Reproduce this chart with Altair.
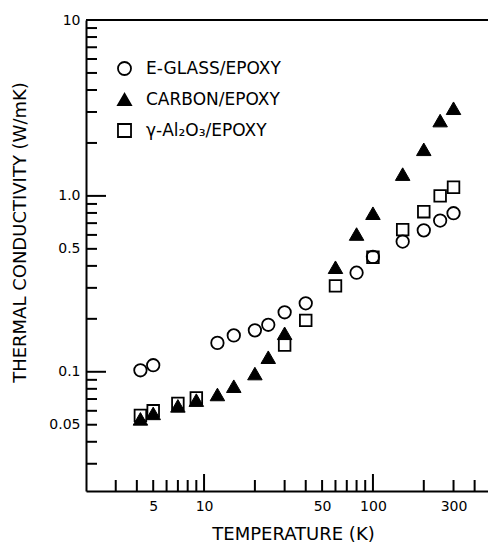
import altair as alt
import pandas as pd

series_names = ["E-GLASS/EPOXY", "CARBON/EPOXY", "γ-Al₂O₃/EPOXY"]
series_shapes = ["circle", "triangle-up", "square"]
series_fills = ["transparent", "black", "transparent"]
series_strokes = ["black", "black", "black"]

eglass_T = [4.2, 5, 12, 15, 20, 24, 30, 40, 80, 100, 150, 200, 250, 300]
eglass_k = [0.102, 0.109, 0.146, 0.161, 0.172, 0.185, 0.218, 0.245, 0.366, 0.45, 0.55, 0.637, 0.724, 0.797]

carbon_T = [4.2, 5, 7, 9, 12, 15, 20, 24, 30, 60, 80, 100, 150, 200, 250, 300]
carbon_k = [0.054, 0.058, 0.064, 0.069, 0.0743, 0.0828, 0.0977, 0.121, 0.1655, 0.393, 0.607, 0.797, 1.33, 1.84, 2.68, 3.15]

alumina_T = [4.2, 5, 7, 9, 30, 40, 60, 100, 150, 200, 250, 300]
alumina_k = [0.0565, 0.060, 0.066, 0.071, 0.142, 0.196, 0.308, 0.448, 0.643, 0.813, 1.0, 1.12]

x_label_values = [5, 10, 50, 100, 300]
y_label_values = [0.05, 0.1, 0.5, 1, 10]
x_minor_ticks = [3, 4, 5, 6, 7, 8, 9, 20, 30, 40, 50, 60, 70, 80, 90, 200, 300, 400]
x_major_ticks = [10, 100]
y_minor_ticks = [0.03, 0.04, 0.05, 0.06, 0.07, 0.08, 0.09,
                 0.2, 0.3, 0.4, 0.5, 0.6, 0.7, 0.8, 0.9,
                 2, 3, 4, 5, 6, 7, 8, 9]
y_major_ticks = [0.1, 1]

W, H = 402, 471
FONT = "DejaVu Sans"

rows = []
for name, Ts, ks in [(series_names[1], carbon_T, carbon_k),
                     (series_names[0], eglass_T, eglass_k),
                     (series_names[2], alumina_T, alumina_k)]:
    for t, k in zip(Ts, ks):
        rows.append({"series": name, "T": t, "k": k})
df = pd.DataFrame(rows)

xscale = alt.Scale(type="log", domain=[2, 480], nice=False)
yscale = alt.Scale(type="log", domain=[0.021, 10], nice=False)

shape_enc = alt.Shape("series:N",
                      scale=alt.Scale(domain=series_names, range=series_shapes),
                      legend=alt.Legend(title=None, orient="none", legendX=30, legendY=40,
                                        symbolSize=170, symbolStrokeColor="black",
                                        symbolStrokeWidth=1.8, labelFont=FONT,
                                        labelFontSize=17, labelColor="black",
                                        labelOffset=13, rowPadding=11, padding=0))
fill_enc = alt.Fill("series:N",
                    scale=alt.Scale(domain=series_names, range=series_fills))
stroke_enc = alt.Stroke("series:N",
                        scale=alt.Scale(domain=series_names, range=series_strokes))

x_axis = alt.Axis(values=x_label_values, format="d", grid=False, ticks=False, tickSize=0,
                  domainColor="black", domainWidth=2, labelFont=FONT, labelFontSize=14,
                  labelColor="black", labelPadding=8, title="TEMPERATURE (K)",
                  titleFont=FONT, titleFontSize=18, titleFontWeight="normal",
                  titleColor="black", titleX=207, titleY=43, titleBaseline="middle")
y_axis = alt.Axis(values=y_label_values, grid=False, ticks=False, tickSize=0,
                  labelExpr="datum.value >= 10 ? '10' : (datum.value == 1 ? '1.0' : toString(datum.value))",
                  domainColor="black", domainWidth=2, labelFont=FONT, labelFontSize=14,
                  labelColor="black", labelPadding=6, title="THERMAL CONDUCTIVITY (W/mK)",
                  titleFont=FONT, titleFontSize=18, titleFontWeight="normal",
                  titleColor="black", titleX=-66, titleY=212, titleAngle=270,
                  titleBaseline="middle", titleAlign="center")

def pts(name, size, sw):
    return alt.Chart(df).transform_filter(alt.datum.series == name).mark_point(
        opacity=1, strokeWidth=sw, size=size
    ).encode(
        x=alt.X("T:Q", scale=xscale, axis=x_axis),
        y=alt.Y("k:Q", scale=yscale, axis=y_axis),
        shape=shape_enc,
        fill=fill_enc,
        stroke=stroke_enc,
    )

carbon_layer = pts(series_names[1], 210, 1)
eglass_layer = pts(series_names[0], 155, 1.8)
alumina_layer = pts(series_names[2], 135, 1.8)

def yticks(vals, length):
    return alt.Chart(pd.DataFrame({"v": vals})).mark_rule(color="black", strokeWidth=2).encode(
        y=alt.Y("v:Q", scale=yscale), x=alt.value(0), x2=alt.value(length))

def xticks(vals, length):
    return alt.Chart(pd.DataFrame({"v": vals})).mark_rule(color="black", strokeWidth=2).encode(
        x=alt.X("v:Q", scale=xscale), y=alt.value(H), y2=alt.value(H - length))

top_frame = alt.Chart(pd.DataFrame({"v": [10]})).mark_rule(color="black", strokeWidth=2).encode(
    y=alt.Y("v:Q", scale=yscale), x=alt.value(0), x2=alt.value(W))

chart = alt.layer(
    yticks(y_minor_ticks, 11), yticks(y_major_ticks, 20),
    xticks(x_minor_ticks, 11), xticks(x_major_ticks, 17),
    top_frame,
    carbon_layer, eglass_layer, alumina_layer,
).properties(
    width=W, height=H,
    padding={"left": 86, "top": 20, "right": 0, "bottom": 52},
    autosize="none",
    background="white",
).configure_view(stroke="transparent")

chart.save("out.html", embed_options={"renderer": "svg", "actions": False})
